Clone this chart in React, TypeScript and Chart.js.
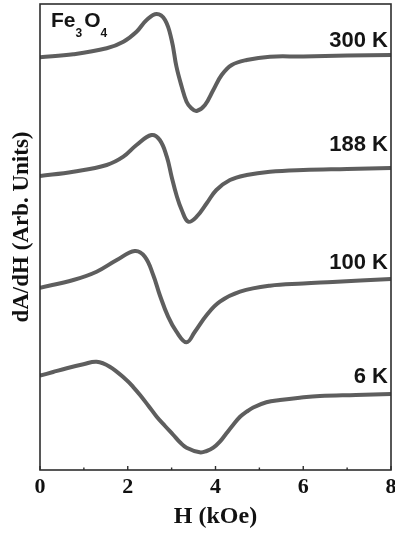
import { useEffect, useRef } from "react";
import { Chart, registerables } from "chart.js";

Chart.register(...registerables);

// Magnetic field H (kOe) and derivative signal dA/dH (arbitrary units, vertically offset)
const FIELD_300K = [0, 0.76, 1.52, 1.9, 2.2, 2.43, 2.66, 2.85, 3.0, 3.11, 3.23, 3.34, 3.45, 3.57, 3.76, 3.95, 4.14, 4.37, 4.71, 5.24, 6.0, 7.0, 8.0];
const SIGNAL_300K = [412.7, 415.7, 421.7, 428.3, 438.3, 450, 456, 450, 430, 403.3, 383.3, 368.3, 361.7, 359, 365, 380, 395, 405, 410, 413.3, 413.5, 414.5, 415];

const FIELD_188K = [0, 0.76, 1.52, 1.9, 2.2, 2.54, 2.73, 2.89, 3.0, 3.11, 3.23, 3.38, 3.57, 3.8, 4.02, 4.33, 4.71, 5.24, 6, 7, 8];
const SIGNAL_188K = [294, 298.3, 305, 313.3, 325, 335, 330, 313.3, 293.3, 275, 260, 248.3, 253.3, 266.7, 280, 290, 295, 298.3, 300, 301, 302];

const FIELD_100K = [0, 0.76, 1.29, 1.75, 2.16, 2.39, 2.58, 2.73, 2.92, 3.11, 3.34, 3.53, 3.8, 4.1, 4.56, 5.24, 6, 6.67, 7.3, 8];
const SIGNAL_100K = [182.3, 190, 198.3, 210, 219, 213.3, 195, 175, 153.3, 138.3, 127.7, 138.3, 155, 168.3, 178.3, 184.3, 186.5, 188, 189.5, 191];

const FIELD_6K = [0, 0.3, 0.61, 0.99, 1.29, 1.59, 1.97, 2.13, 2.28, 2.47, 2.66, 2.85, 3.04, 3.19, 3.34, 3.64, 3.8, 3.95, 4.1, 4.25, 4.4, 4.56, 4.71, 4.86, 5.16, 5.47, 5.92, 6.38, 7.2, 8];
const SIGNAL_6K = [94.3, 98, 101.7, 105.7, 108.3, 103.3, 90, 82.7, 75, 64.3, 53.3, 44, 35, 27.7, 22.3, 17.7, 19, 22.3, 28.3, 36.7, 45, 53.3, 58.3, 62.5, 67.7, 70, 72.3, 74, 75, 76];

const TEMPERATURE_LABELS = ["300 K", "188 K", "100 K", "6 K"];
const LABEL_LEVELS = [429.5, 325, 207, 93];
const X_TITLE = "H (kOe)";
const Y_TITLE = "dA/dH (Arb. Units)";
const X_MIN = 0;
const X_MAX = 8;
const Y_MIN = 0;
const Y_MAX = 466;

const SERIES = [
  { field: FIELD_300K, signal: SIGNAL_300K },
  { field: FIELD_188K, signal: SIGNAL_188K },
  { field: FIELD_100K, signal: SIGNAL_100K },
  { field: FIELD_6K, signal: SIGNAL_6K },
];

const SERIF = "'Liberation Serif', 'Times New Roman', serif";
const SANS = "'Liberation Sans', Arial, sans-serif";

const toPoints = (xs: number[], ys: number[]) => xs.map((x, i) => ({ x, y: ys[i] }));

// Frame, inward tick marks, vertical title, temperature labels and the sample name
const decorations = {
  id: "decorations",
  afterDraw(chart: any) {
    const { ctx, chartArea, scales } = chart;
    const xs = scales.x;
    const ys = scales.y;
    ctx.save();
    ctx.strokeStyle = "#2e2e2e";
    ctx.lineWidth = 1.6;
    ctx.strokeRect(chartArea.left, chartArea.top, chartArea.right - chartArea.left, chartArea.bottom - chartArea.top);

    ctx.lineWidth = 1.4;
    for (let v = X_MIN; v <= X_MAX; v++) {
      const px = xs.getPixelForValue(v);
      const len = v % 2 === 0 ? 4 : 2.5;
      ctx.beginPath();
      ctx.moveTo(px, chartArea.bottom);
      ctx.lineTo(px, chartArea.bottom - len);
      ctx.stroke();
    }

    // vertical axis title, sitting slightly above the middle of the plot
    ctx.save();
    ctx.translate(chartArea.left - 18, (chartArea.top + chartArea.bottom) / 2 - 10);
    ctx.rotate(-Math.PI / 2);
    ctx.fillStyle = "#111";
    ctx.font = `bold 23px ${SERIF}`;
    ctx.textAlign = "center";
    ctx.textBaseline = "middle";
    ctx.fillText(Y_TITLE, 0, 0);
    ctx.restore();

    ctx.fillStyle = "#151515";
    ctx.font = `bold 22px ${SANS}`;
    ctx.textAlign = "right";
    ctx.textBaseline = "middle";
    TEMPERATURE_LABELS.forEach((t, i) => {
      ctx.fillText(t, xs.getPixelForValue(7.93), ys.getPixelForValue(LABEL_LEVELS[i]));
    });

    // Fe3O4 with subscripts
    ctx.textAlign = "left";
    ctx.textBaseline = "alphabetic";
    let x = chartArea.left + 10;
    const base = chartArea.top + 23;
    const parts: [string, boolean][] = [["Fe", false], ["3", true], ["O", false], ["4", true]];
    for (const [txt, sub] of parts) {
      ctx.font = sub ? `bold 12px ${SANS}` : `bold 21px ${SANS}`;
      ctx.fillText(txt, x + 1, sub ? base + 10 : base);
      x += ctx.measureText(txt).width + (sub ? 2 : 0);
    }
    ctx.restore();
  },
};

export default function App() {
  const canvasRef = useRef<HTMLCanvasElement | null>(null);

  useEffect(() => {
    if (!canvasRef.current) return;
    const datasets: any[] = [];
    SERIES.forEach((s, i) => {
      const pts = toPoints(s.field, s.signal);
      datasets.push({
        label: TEMPERATURE_LABELS[i],
        data: pts,
        borderColor: "#5e5e5e",
        borderWidth: 4,
        pointRadius: 0,
        tension: 0.4,
        fill: false,
      });
      datasets.push({
        label: TEMPERATURE_LABELS[i] + " core",
        data: pts,
        borderColor: "#a8a8a8",
        borderWidth: 1.3,
        pointRadius: 0,
        tension: 0.4,
        fill: false,
      });
    });

    const chart = new Chart(canvasRef.current, {
      type: "line",
      data: { datasets },
      options: {
        animation: false,
        responsive: false,
        maintainAspectRatio: false,
        devicePixelRatio: 1,
        layout: { padding: { top: 4, right: 4, left: 0, bottom: 0 } },
        plugins: { legend: { display: false }, tooltip: { enabled: false } },
        scales: {
          x: {
            type: "linear",
            min: X_MIN,
            max: X_MAX,
            grid: { display: false, drawTicks: false },
            border: { display: false },
            ticks: {
              stepSize: 1,
              autoSkip: false,
              maxRotation: 0,
              padding: 4,
              color: "#111",
              font: { family: SERIF, size: 22, weight: "bold" },
              callback: (v: any) => (Number(v) % 2 === 0 ? String(v) : ""),
            },
            title: {
              display: true,
              text: X_TITLE,
              color: "#111",
              font: { family: SERIF, size: 24, weight: "bold" },
              padding: { top: 2, bottom: 7 },
            },
            afterFit: (scale: any) => {
              scale.height = 68;
              scale.paddingLeft = 0;
              scale.paddingRight = 0;
            },
          },
          y: {
            type: "linear",
            min: Y_MIN,
            max: Y_MAX,
            grid: { display: false, drawTicks: false },
            border: { display: false },
            ticks: { display: false },
            title: { display: false },
            afterFit: (scale: any) => {
              scale.width = 40;
              scale.paddingTop = 0;
              scale.paddingBottom = 0;
            },
          },
        },
      },
      plugins: [decorations],
    });
    return () => chart.destroy();
  }, []);

  return (
    <div style={{ position: "fixed", left: 0, top: 0, width: 395, height: 538, background: "#fff" }}>
      <canvas ref={canvasRef} width={395} height={538} style={{ display: "block" }} />
    </div>
  );
}
